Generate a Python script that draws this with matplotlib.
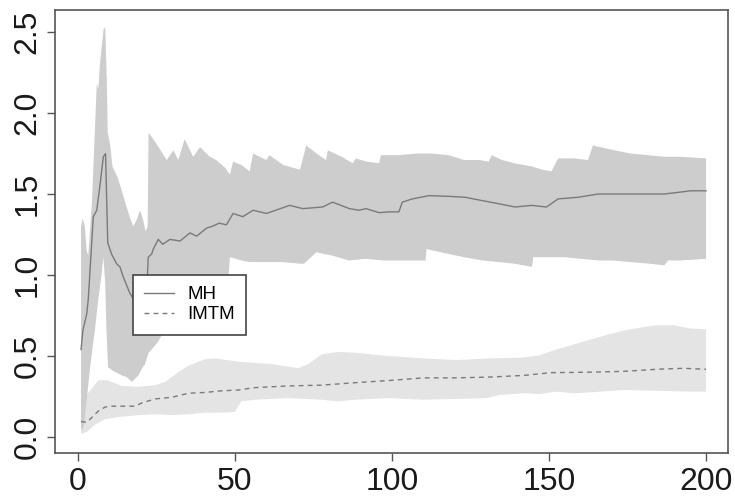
import matplotlib
matplotlib.use("Agg")
import matplotlib.pyplot as plt
import numpy as np

plt.rcParams['font.family'] = ['Liberation Sans', 'DejaVu Sans']

# MH: upper / lower edge of the band and the mean line
mh_up_x = [1.0, 1.5, 2.2, 2.8, 3.3, 4.5, 5.0, 6.0, 6.5, 7.0, 7.6, 8.2, 8.7, 9.2, 9.5, 10.3, 11.0, 12.0,
           12.7, 14.0, 15.5, 16.5, 17.6, 18.7, 19.8, 20.8, 21.5, 22.2, 22.5, 25, 28.3, 30.4, 32, 34, 36.7,
           38.9, 42, 44, 47, 48.4, 49.4, 52, 54.7, 55.8, 60, 61, 65.3, 70.7, 72.7, 76, 79, 79.6, 84, 87.5,
           88.5, 92, 95.9, 96.5, 102, 108, 112.8, 118, 123, 128, 130.8, 131.8, 135, 139, 144.6, 148, 150.8,
           152.9, 158, 162.4, 164, 170.9, 176, 181.5, 186.7, 192, 200]
mh_up_y = [1.30, 1.35, 1.30, 1.15, 1.12, 1.46, 1.70, 2.18, 2.15, 2.30, 2.41, 2.52, 2.53, 2.20, 1.88, 1.80,
           1.67, 1.63, 1.60, 1.52, 1.42, 1.36, 1.30, 1.34, 1.40, 1.34, 1.27, 1.30, 1.88, 1.81, 1.71, 1.77,
           1.71, 1.84, 1.73, 1.79, 1.73, 1.71, 1.66, 1.62, 1.70, 1.68, 1.64, 1.75, 1.71, 1.74, 1.68, 1.65,
           1.80, 1.75, 1.71, 1.77, 1.73, 1.69, 1.72, 1.70, 1.69, 1.74, 1.74, 1.75, 1.75, 1.74, 1.71, 1.71,
           1.70, 1.74, 1.71, 1.69, 1.67, 1.65, 1.64, 1.72, 1.72, 1.71, 1.80, 1.77, 1.75, 1.74, 1.73, 1.73,
           1.72]
mh_lo_x = [1.0, 1.5, 2.0, 2.8, 4.0, 5.4, 6.5, 7.5, 8.1, 8.7, 9.1, 9.6, 10.5, 11, 12, 14, 15.5, 17.2, 18.2,
           19.3, 20.3, 21.4, 22.5, 23.5, 25.6, 27, 30, 35, 40, 45, 48, 48.4, 52, 54.7, 60, 65, 70.7, 72,
           75.9, 81, 86.3, 91.7, 96.9, 102, 110.7, 111, 118, 123, 128.7, 134, 139, 144.6, 145, 155, 160,
           165.6, 170, 176, 182, 186.7, 188, 192, 200]
mh_lo_y = [0.06, 0.04, 0.08, 0.23, 0.45, 0.66, 0.85, 1.00, 1.11, 0.95, 0.66, 0.43, 0.42, 0.41, 0.40, 0.38,
           0.37, 0.34, 0.36, 0.38, 0.42, 0.45, 0.52, 0.54, 0.59, 0.64, 0.75, 0.85, 0.90, 0.95, 1.00, 1.11,
           1.09, 1.08, 1.08, 1.08, 1.07, 1.07, 1.14, 1.12, 1.09, 1.10, 1.09, 1.09, 1.09, 1.16, 1.13, 1.11,
           1.09, 1.08, 1.07, 1.05, 1.11, 1.11, 1.10, 1.09, 1.09, 1.08, 1.07, 1.06, 1.09, 1.09, 1.10]
mh_x = [1, 1.6, 2.8, 3.3, 4.9, 6.0, 7.0, 8.1, 8.8, 9.5, 10.7, 12.3, 13.4, 14.4, 16.5, 18, 20, 21.8, 22.4,
        23.5, 24, 25.6, 27, 29.3, 32.5, 35.7, 37.8, 41, 42.7, 45, 47.3, 49.4, 52.5, 55.8, 60, 63, 67.4,
        71.6, 77.9, 81.1, 86.4, 89.5, 91.7, 95.9, 99, 102.2, 103.3, 106.5, 111.8, 119, 123.3, 128.6, 134,
        139.2, 144.5, 149.2, 152.9, 159.2, 165.6, 176, 186.6, 191, 195, 200]
mh_y = [0.54, 0.66, 0.76, 0.85, 1.36, 1.40, 1.55, 1.73, 1.75, 1.20, 1.13, 1.07, 1.05, 0.99, 0.89, 0.84,
        0.82, 0.85, 1.11, 1.13, 1.16, 1.22, 1.19, 1.22, 1.21, 1.26, 1.24, 1.29, 1.30, 1.32, 1.31, 1.38,
        1.36, 1.40, 1.38, 1.40, 1.43, 1.41, 1.42, 1.45, 1.41, 1.40, 1.41, 1.385, 1.39, 1.39, 1.45, 1.47,
        1.49, 1.485, 1.48, 1.46, 1.44, 1.42, 1.43, 1.42, 1.47, 1.48, 1.50, 1.50, 1.50, 1.51, 1.52, 1.52]

# IMTM: band edges and mean line
im_up_x = [1, 2.3, 4.5, 6.5, 9.5, 14, 19.3, 24.6, 27.8, 32, 35.2, 40.5, 43.7, 51.1, 61.7, 70.1, 73.4,
           77.6, 82.9, 88.2, 98.9, 110, 120.6, 131.2, 141.9, 147.1, 152.4, 157.7, 163, 168.4, 173.6, 179,
           184.3, 189.6, 194.9, 200]
im_up_y = [0.15, 0.25, 0.30, 0.35, 0.35, 0.315, 0.31, 0.32, 0.34, 0.40, 0.44, 0.48, 0.485, 0.465, 0.45,
           0.425, 0.45, 0.51, 0.525, 0.52, 0.50, 0.485, 0.475, 0.485, 0.49, 0.505, 0.54, 0.57, 0.60, 0.63,
           0.656, 0.675, 0.69, 0.69, 0.67, 0.665]
im_lo_x = [1, 2.8, 5.4, 8.7, 14, 19.3, 24.6, 29.9, 35.2, 40.5, 45.8, 50, 52, 56.4, 67, 77.6, 82.9, 88.2,
           98.9, 110, 120.6, 130.1, 134.4, 141.9, 147.1, 152.4, 157.7, 163, 173.6, 184.3, 194.9, 200]
im_lo_y = [0.02, 0.03, 0.075, 0.11, 0.125, 0.135, 0.14, 0.135, 0.14, 0.15, 0.15, 0.155, 0.22, 0.23, 0.24,
           0.23, 0.22, 0.23, 0.24, 0.23, 0.235, 0.24, 0.26, 0.27, 0.265, 0.28, 0.27, 0.275, 0.29, 0.285,
           0.28, 0.28]
im_x = [1, 2.8, 4.4, 6.5, 8.7, 10.8, 18.2, 20.3, 24.6, 29.9, 35.2, 40.5, 45.8, 51.1, 56.4, 67, 77.6, 88.2,
        100, 110, 120.6, 131.2, 141.9, 147.1, 150.3, 163, 173.6, 184.3, 192.8, 200]
im_y = [0.095, 0.09, 0.12, 0.16, 0.185, 0.19, 0.19, 0.21, 0.235, 0.245, 0.27, 0.275, 0.285, 0.29, 0.305,
        0.315, 0.32, 0.335, 0.35, 0.365, 0.365, 0.37, 0.38, 0.39, 0.397, 0.40, 0.405, 0.418, 0.424, 0.418]

fig = plt.figure(figsize=(7.35, 5.03), dpi=100)
ax = fig.add_axes([0.0748, 0.0994, 0.9157, 0.8806])

ax.fill(np.r_[im_up_x, im_lo_x[::-1]], np.r_[im_up_y, im_lo_y[::-1]], color='#e4e4e4', lw=0)
ax.fill(np.r_[mh_up_x, mh_lo_x[::-1]], np.r_[mh_up_y, mh_lo_y[::-1]], color='#cdcdcd', lw=0)
ax.plot(mh_x, mh_y, color='#7a7a7a', lw=1.0, label='MH')
ax.plot(im_x, im_y, color='#7a7a7a', lw=1.0, ls=(0, (3.5, 3)), label='IMTM')

ax.set_xlim(-7.3, 207)
ax.set_ylim(-0.099, 2.636)
ax.set_xticks([0, 50, 100, 150, 200])
ax.set_yticks([0.0, 0.5, 1.0, 1.5, 2.0, 2.5])
ax.set_yticklabels(['0.0', '0.5', '1.0', '1.5', '2.0', '2.5'], rotation=90, va='center')
ax.tick_params(axis='both', length=6, width=1, color='#555555', labelsize=23, labelcolor='#1a1a1a')
ax.tick_params(axis='x', pad=4)
ax.tick_params(axis='y', pad=3)
for s in ax.spines.values():
    s.set_color('#555555')
    s.set_linewidth(1.2)

leg = ax.legend(loc='upper left', bbox_to_anchor=(0.116, 0.402), borderaxespad=0, fontsize=13.5,
                fancybox=False, framealpha=1, edgecolor='#444444', handlelength=1.6, handletextpad=0.7,
                borderpad=0.6, labelspacing=0.15)
leg.get_frame().set_linewidth(1.2)

fig.savefig('out.png', dpi=100)
